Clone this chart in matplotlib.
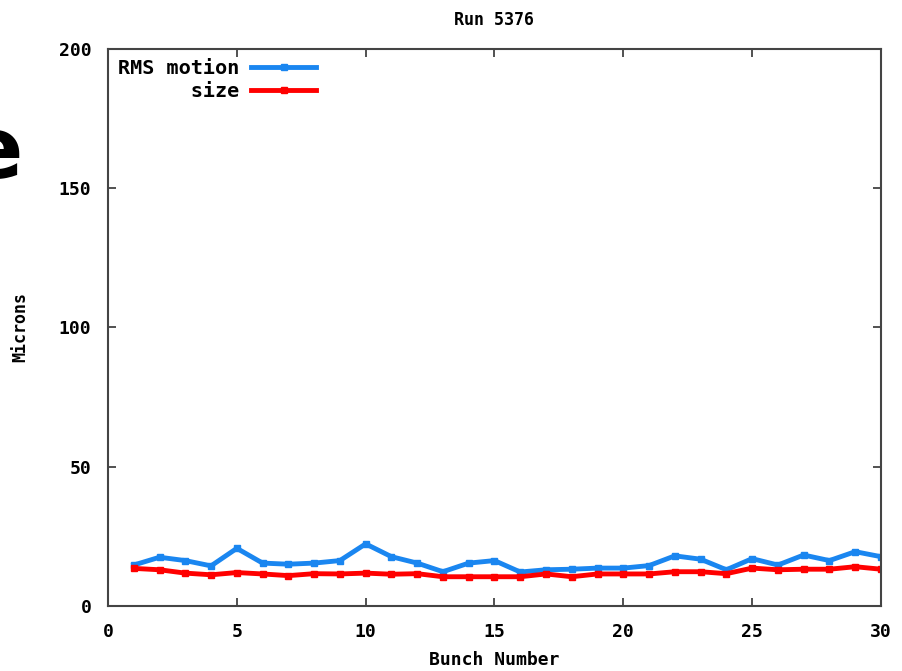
import matplotlib
matplotlib.use('Agg')
import matplotlib.pyplot as plt
import numpy as np

# Run 5376 - bunch by bunch beam motion vs beam size
bunch = np.arange(1, 31)
rms_motion = [14.7, 17.5, 16.3, 14.4, 20.7, 15.4, 15.0, 15.4, 16.3, 22.3,
              17.7, 15.4, 12.3, 15.4, 16.3, 12.2, 13.0, 13.2, 13.6, 13.6,
              14.5, 18.0, 16.8, 13.0, 17.0, 14.7, 18.3, 16.3, 19.5, 17.7]
size = [13.5, 13.0, 11.8, 11.2, 12.0, 11.5, 10.9, 11.6, 11.5, 11.8,
        11.4, 11.6, 10.5, 10.5, 10.5, 10.5, 11.5, 10.5, 11.5, 11.5,
        11.5, 12.3, 12.3, 11.6, 13.6, 13.0, 13.2, 13.2, 14.1, 13.2]

plt.rcParams['font.family'] = 'DejaVu Sans Mono'
plt.rcParams['font.size'] = 14
plt.rcParams['font.weight'] = 'bold'
plt.rcParams['axes.titleweight'] = 'bold'
plt.rcParams['axes.labelweight'] = 'bold'

fig = plt.figure(figsize=(9.03, 6.71), dpi=100)
ax = fig.add_axes([0.1196, 0.0969, 0.856, 0.8301])

ax.plot(bunch, rms_motion, color='#1a86f0', lw=3.5, marker='s', ms=4,
        label='RMS motion')
ax.plot(bunch, size, color='#ff0000', lw=3.5, marker='s', ms=4,
        label='      size')

ax.set_xlim(0, 30)
ax.set_ylim(0, 200)
ax.set_xticks(range(0, 31, 5))
ax.set_yticks(range(0, 201, 50))
ax.tick_params(direction='in', top=True, right=True, length=6, width=1.2,
               color='#333333', pad=12, labelsize=13)
for s in ax.spines.values():
    s.set_color('#444444')
    s.set_linewidth(1.5)

ax.set_title('Run 5376', fontsize=12, pad=17)
ax.set_xlabel('Bunch Number', fontsize=13, va='center')
ax.set_ylabel('Microns', fontsize=12, va='center')
ax.xaxis.set_label_coords(0.5, -0.097)
ax.yaxis.set_label_coords(-0.114, 0.5)

ax.legend(loc='upper left', frameon=False, markerfirst=False,
          handlelength=3.2, borderaxespad=0.1, labelspacing=0.2,
          handletextpad=0.6, fontsize=14.5)

# fragment of slide text at left edge
fig.text(0.025, 0.735, 'e', fontsize=62, fontweight='bold',
         family='DejaVu Sans', ha='right', va='baseline')

fig.savefig('out.png', dpi=100)
